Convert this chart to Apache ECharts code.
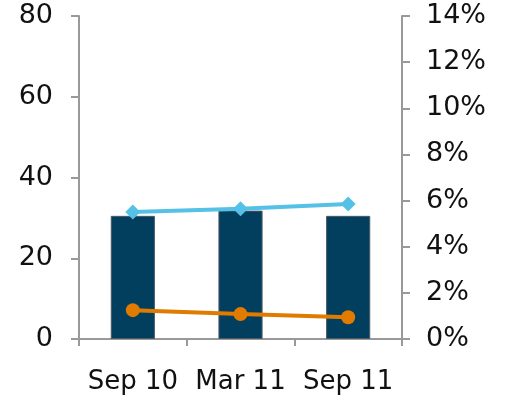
<!DOCTYPE html>
<html><head><meta charset="utf-8">
<script src="https://cdn.jsdelivr.net/npm/echarts@6/dist/echarts.min.js"></script>
<style>html,body{margin:0;padding:0;background:#fff}#c{width:506px;height:397px}</style>
</head><body><div id="c"></div>
<script>
const categories = ['Sep 10', 'Mar 11', 'Sep 11'];
const barValues = [30.5, 31.8, 30.5];
const blueLine = [5.5, 5.65, 5.85];
const orangeLine = [1.25, 1.08, 0.94];
const leftTicks = [0, 20, 40, 60, 80];
const rightTicks = [0, 2, 4, 6, 8, 10, 12, 14];

const font = 'DejaVu Sans';
const axisColor = '#999999';
const chart = echarts.init(document.getElementById('c'), null, {renderer: 'canvas'});
chart.setOption({
  animation: false,
  grid: {left: 79, right: 104, top: 16, bottom: 58},
  xAxis: {
    type: 'category', data: categories,
    axisLine: {lineStyle: {color: axisColor, width: 2}},
    axisTick: {show: true, length: 7, lineStyle: {color: axisColor, width: 2}},
    axisLabel: {fontFamily: font, fontSize: 26, color: '#111', margin: 30, interval: 0}
  },
  yAxis: [{
    type: 'value', min: 0, max: 80, interval: 20, position: 'left',
    splitLine: {show: false},
    axisLine: {show: true, lineStyle: {color: axisColor, width: 2}},
    axisTick: {show: true, length: 8, lineStyle: {color: axisColor, width: 2}},
    axisLabel: {fontFamily: font, fontSize: 27, color: '#111', margin: 26,
      formatter: v => leftTicks.includes(v) ? String(v) : ''}
  }, {
    type: 'value', min: 0, max: 14, interval: 2, position: 'right',
    splitLine: {show: false},
    axisLine: {show: true, lineStyle: {color: axisColor, width: 2}},
    axisTick: {show: true, length: 8, lineStyle: {color: axisColor, width: 2}},
    axisLabel: {fontFamily: font, fontSize: 27, color: '#111', margin: 24,
      formatter: v => rightTicks.includes(v) ? v + '%' : ''}
  }],
  series: [{
    type: 'bar', data: barValues, barWidth: '41%', yAxisIndex: 0,
    itemStyle: {color: '#023F5F', borderColor: '#4a5a66', borderWidth: 1}
  }, {
    type: 'line', data: blueLine, yAxisIndex: 1,
    symbol: 'diamond', symbolSize: 15,
    lineStyle: {color: '#56C1E6', width: 4},
    itemStyle: {color: '#56C1E6'}
  }, {
    type: 'line', data: orangeLine, yAxisIndex: 1,
    symbol: 'circle', symbolSize: 14,
    lineStyle: {color: '#E07B00', width: 4},
    itemStyle: {color: '#E07B00'}
  }]
});
</script></body></html>
